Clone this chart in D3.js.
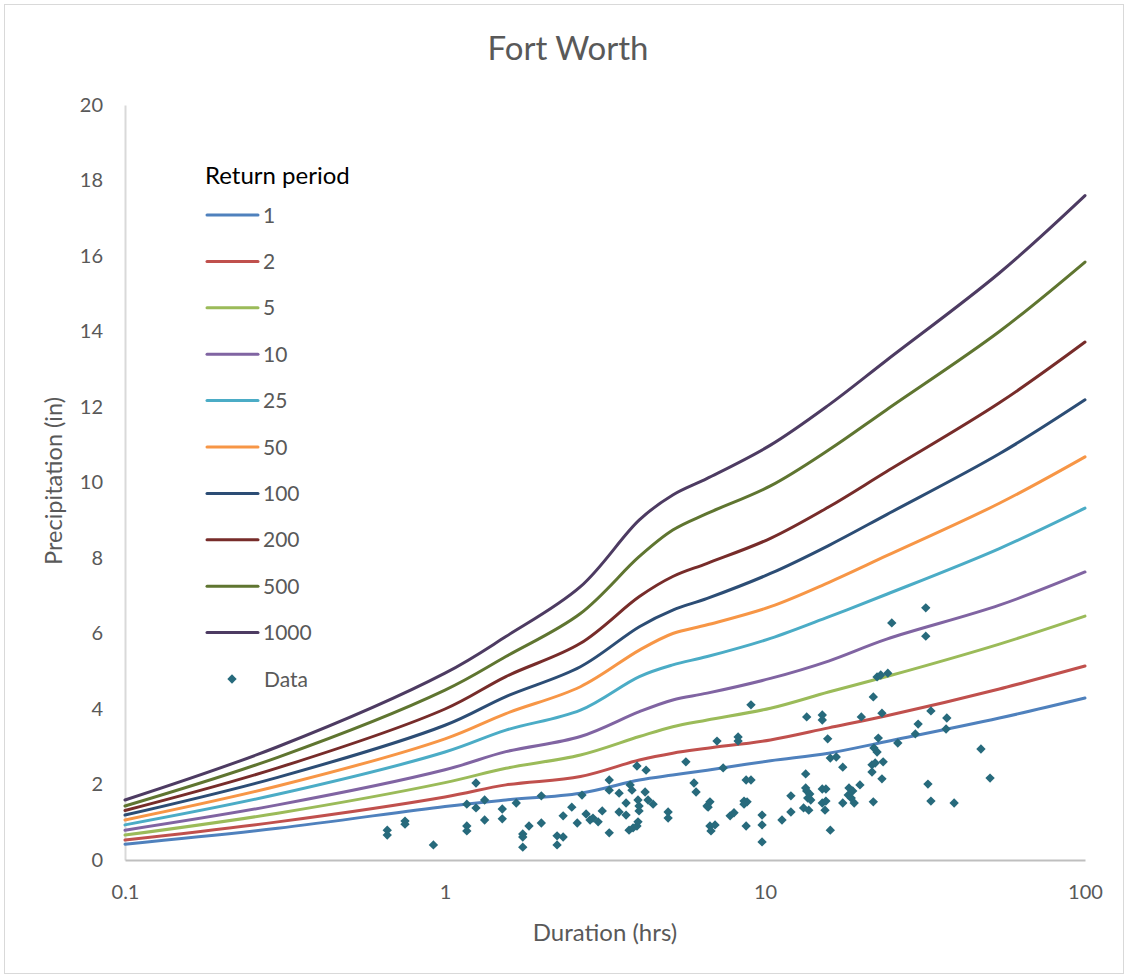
<!DOCTYPE html>
<html>
<head>
<meta charset="utf-8">
<script src="https://cdn.jsdelivr.net/npm/d3@7"></script>
<style>
  html, body { margin: 0; padding: 0; background: #fff; }
  svg { display: block; }
  text { font-family: "Lato", "Open Sans", sans-serif; }
</style>
</head>
<body>
<svg id="chart" width="1128" height="978"></svg>
<script>
// ---- data ----
const durations = [0.1, 0.3, 1, 1.55, 2.65, 4.05, 5.15, 6.6, 10.4, 15.8, 24, 54, 100];
const returnPeriods = ["1", "2", "5", "10", "25", "50", "100", "200", "500", "1000"];
const rp1    = [0.42, 0.84, 1.42, 1.59, 1.77, 2.12, 2.25, 2.38, 2.63, 2.83, 3.14, 3.76, 4.29];
const rp2    = [0.53, 1.01, 1.67, 1.99, 2.21, 2.65, 2.83, 2.96, 3.18, 3.50, 3.82, 4.53, 5.14];
const rp5    = [0.66, 1.24, 2.05, 2.43, 2.78, 3.27, 3.53, 3.71, 4.02, 4.45, 4.86, 5.72, 6.46];
const rp10   = [0.79, 1.46, 2.39, 2.87, 3.27, 3.93, 4.24, 4.42, 4.81, 5.27, 5.85, 6.75, 7.63];
const rp25   = [0.93, 1.74, 2.86, 3.44, 3.97, 4.86, 5.17, 5.39, 5.87, 6.44, 7.04, 8.25, 9.32];
const rp50   = [1.06, 1.96, 3.21, 3.88, 4.59, 5.56, 6.00, 6.23, 6.71, 7.35, 8.06, 9.45, 10.68];
const rp100  = [1.19, 2.19, 3.57, 4.33, 5.12, 6.18, 6.62, 6.93, 7.59, 8.33, 9.15, 10.76, 12.19];
const rp200  = [1.31, 2.44, 4.00, 4.86, 5.74, 6.98, 7.51, 7.86, 8.52, 9.35, 10.29, 12.11, 13.72];
const rp500  = [1.43, 2.72, 4.50, 5.39, 6.53, 8.04, 8.74, 9.18, 9.91, 10.86, 11.93, 14.00, 15.84];
const rp1000 = [1.59, 3.00, 4.95, 5.92, 7.24, 9.01, 9.67, 10.11, 10.99, 12.05, 13.24, 15.55, 17.60];
const seriesValues = [rp1, rp2, rp5, rp10, rp25, rp50, rp100, rp200, rp500, rp1000];
const seriesColors = ["#4F81BD", "#C0504D", "#9BBB59", "#8064A2", "#4BACC6", "#F79646", "#2C4D75", "#772C2A", "#5F7530", "#4D3B62"];

// observed data (duration hrs, precipitation in)
const dataDuration = [0.66,0.66,0.75,0.75,0.92,1.17,1.17,1.17,1.25,1.25,1.33,1.33,1.51,1.51,1.67,1.83,1.75,1.75,1.75,2.0,
  2.0,2.24,2.34,2.24,2.34,2.49,2.59,2.68,2.76,2.84,2.90,3.01,3.10,3.26,3.26,3.26,3.50,3.50,3.68,3.68,
  3.79,3.84,3.76,3.87,3.98,4.01,4.01,4.04,4.04,4.22,4.31,4.47,3.98,4.25,4.98,4.98,5.66,6.0,6.09,6.64,
  6.73,6.59,6.73,6.98,6.78,7.08,7.40,7.78,8.0,8.24,8.24,9.04,8.73,9.04,8.6,8.79,8.6,8.73,9.79,9.79,
  9.79,11.3,12.05,12.05,13.5,15.1,15.1,13.4,13.4,13.5,13.8,13.6,13.9,13.2,13.7,15.1,15.5,15.1,15.5,15.4,
  16.0,15.7,16.0,16.7,17.5,18.3,18.8,18.6,19.0,18.2,17.5,19.8,20.0,21.8,22.4,23.0,24.2,23.2,22.6,21.9,
  22.4,23.4,21.6,22.1,21.6,23.2,21.8,24.9,31.8,31.8,33.0,37.0,36.8,30.1,29.5,26.0,47.3,50.5,32.3,33.0,39.0];
const dataPrecip = [0.79,0.66,1.03,0.95,0.40,0.90,0.77,1.48,2.04,1.38,1.59,1.06,1.35,1.09,1.51,0.90,0.69,0.61,0.34,1.70,
  0.98,0.64,0.61,0.40,1.17,1.40,0.98,1.72,1.22,1.06,1.11,1.01,1.30,2.12,1.85,0.72,1.77,1.27,1.51,1.19,
  1.99,1.85,0.79,0.85,0.90,1.01,1.59,1.43,1.30,1.80,1.59,1.48,2.49,2.38,1.27,1.11,2.60,2.04,1.80,1.40,
  1.54,1.43,0.90,0.93,0.77,3.15,2.44,1.17,1.25,3.26,3.15,4.11,2.12,2.12,1.56,1.54,1.48,0.90,1.19,0.93,
  0.48,1.06,1.70,1.27,3.79,3.84,3.71,2.28,1.91,1.83,1.75,1.64,1.59,1.38,1.32,1.88,1.88,1.51,1.56,1.32,
  0.79,3.21,2.70,2.73,2.46,1.91,1.83,1.64,1.51,1.72,1.51,1.99,3.79,4.32,4.85,4.90,4.95,3.89,3.23,2.97,
  2.86,2.60,2.52,2.57,2.33,2.15,1.54,6.28,6.68,5.93,3.95,3.76,3.47,3.60,3.34,3.10,2.94,2.17,2.01,1.56,1.51];
const dataColor = "#276A7C";

const xTickValues = [0.1, 1, 10, 100];
const yTickValues = [0, 2, 4, 6, 8, 10, 12, 14, 16, 18, 20];

// ---- drawing ----
const svg = d3.select("#chart");
const W = 1128, H = 978;
const mLeft = 125, mRight = 1085, mTop = 105, mBottom = 860;

svg.append("rect").attr("x", 4.5).attr("y", 4.5).attr("width", W - 9).attr("height", H - 9)
  .attr("fill", "#fff").attr("stroke", "#d9d9d9").attr("stroke-width", 1);

const x = d3.scaleLog().domain([0.1, 100]).range([mLeft, mRight]);
const y = d3.scaleLinear().domain([0, 20]).range([mBottom, mTop]);

// axes
const yAxis = svg.append("g").attr("transform", `translate(${mLeft},0)`)
  .call(d3.axisLeft(y).tickValues(yTickValues).tickSize(0).tickSizeOuter(0).tickPadding(22).tickFormat(d3.format("d")));
yAxis.select(".domain").attr("stroke", "#d9d9d9").attr("stroke-width", 2);
yAxis.selectAll("text").attr("font-size", 20).attr("fill", "#595959");

const xAxis = svg.append("g").attr("transform", `translate(0,${mBottom})`)
  .call(d3.axisBottom(x).tickValues(xTickValues).tickSize(0).tickSizeOuter(0).tickPadding(25).tickFormat(d => String(d)));
xAxis.select(".domain").attr("stroke", "#bfbfbf").attr("stroke-width", 2);
xAxis.selectAll("text").attr("font-size", 20).attr("fill", "#595959");

// title and axis titles
svg.append("text").attr("x", 568).attr("y", 60).attr("text-anchor", "middle")
  .attr("font-size", 33).attr("fill", "#595959").text("Fort Worth");
svg.append("text").attr("x", 605).attr("y", 941).attr("text-anchor", "middle")
  .attr("font-size", 24).attr("fill", "#595959").text("Duration (hrs)");
svg.append("text").attr("transform", "translate(62,481) rotate(-90)").attr("text-anchor", "middle")
  .attr("font-size", 23.5).attr("fill", "#595959").text("Precipitation (in)");

// lines
const line = d3.line()
  .x(d => x(d[0])).y(d => y(d[1]))
  .curve(d3.curveCatmullRom.alpha(0.5));
seriesValues.forEach((vals, i) => {
  const pts = durations.map((d, j) => [d, vals[j]]);
  svg.append("path").attr("d", line(pts)).attr("fill", "none")
    .attr("stroke", seriesColors[i]).attr("stroke-width", 3).attr("stroke-linecap", "round");
});

// scatter
const diamond = d3.symbol().type(d3.symbolSquare).size(44);
dataDuration.forEach((d, i) => {
  svg.append("path").attr("d", diamond())
    .attr("transform", `translate(${x(d)},${y(dataPrecip[i])}) rotate(45)`)
    .attr("fill", dataColor);
});

// legend
const lg = svg.append("g");
lg.append("text").attr("x", 205).attr("y", 184).attr("font-size", 24).attr("fill", "#000").text("Return period");
returnPeriods.forEach((rp, i) => {
  const cy = 215 + i * 46.4;
  lg.append("line").attr("x1", 207).attr("x2", 258).attr("y1", cy).attr("y2", cy)
    .attr("stroke", seriesColors[i]).attr("stroke-width", 3).attr("stroke-linecap", "round");
  lg.append("text").attr("x", 263).attr("y", cy + 7.5).attr("font-size", 21).attr("fill", "#595959").text(rp);
});
const dcy = 215 + 10 * 46.4;
lg.append("path").attr("d", diamond()).attr("transform", `translate(232,${dcy}) rotate(45)`).attr("fill", dataColor);
lg.append("text").attr("x", 264).attr("y", dcy + 7.5).attr("font-size", 21).attr("fill", "#595959").text("Data");
</script>
</body>
</html>
